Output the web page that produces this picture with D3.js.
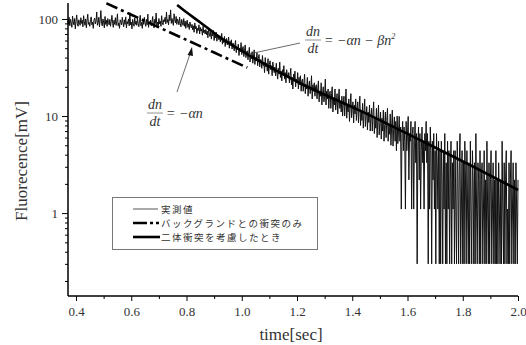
<!DOCTYPE html>
<html><head><meta charset="utf-8">
<script src="https://cdn.jsdelivr.net/npm/d3@7"></script>
<style>body{margin:0;background:#fff}svg{display:block}</style>
</head><body>
<svg id="c" width="526" height="345"></svg>
<script>
// measured signal [mV], sampled every 0.0025 s from 0.370 s to 2.000 s (20 samples per row)
const tStart = 0.37, tStep = 0.0025;
const measured = [
96,88,104,85,99,91,82,107,93,87,101,79,95,110,89,84,98,92,86,103,
90,97,83,108,94,86,100,81,96,112,88,92,84,99,105,87,93,80,97,102,
89,95,118,86,91,104,83,98,122,90,85,100,93,81,106,88,97,84,101,92,
87,99,84,95,109,90,82,97,88,103,86,94,113,85,91,80,98,93,87,104,
92,83,98,88,105,81,94,89,100,85,116,87,93,79,99,90,84,102,88,95,
86,101,90,83,97,109,85,92,80,96,88,104,91,84,99,87,112,82,94,89,
97,85,92,106,88,81,99,90,115,86,93,83,101,89,95,84,108,91,87,98,
94,104,89,118,92,99,87,110,96,124,90,101,93,86,113,98,91,106,88,100,
95,87,104,90,83,99,92,86,101,84,95,80,91,97,82,89,78,93,85,81,
88,77,85,73,91,79,84,71,80,76,87,70,82,75,79,68,84,72,77,70,
78,69,75,64,81,70,66,74,62,72,67,76,60,70,64,73,59,68,65,61,
67,58,64,71,55,62,57,66,52,60,63,54,58,65,50,59,55,61,49,56,
56,47,53,60,45,51,48,55,42,50,46,57,43,49,52,41,47,54,40,45,
47,38,44,51,36,42,39,46,35,41,48,34,40,37,45,33,39,43,32,38,
38,31,42,33,36,28,40,32,35,29,39,27,34,37,30,33,26,36,31,28,
32,26,35,28,24,31,27,36,25,29,23,30,27,33,24,28,22,30,26,25,
28,22,26,31,21,25,19,27,23,29,20,24,22,28,19,25,21,26,18,23,
24,18,22,27,17,21,19,25,16,20,23,17,19,26,15,21,18,22,16,20,
21,15,19,23,14,18,16,22,13,17,20,14,16,24,13,18,15,19,12,17,
18,12,17,20,11,15,13,19,11.5,14,17,10.5,15,19,12,14,11,16,10,13.5,
16,10,14,19,9.5,13,11,15,8.8,12.5,17,9.6,12,14,8.5,13,10.5,15,9,12,
14,8.5,12,16,8,11,9,13.5,7.5,10.5,15,7.8,10,12.5,7.2,11,8.6,13,7,9.6,
12,7,10.5,14,6.6,9.3,7.5,12,6,9,13,6.4,8.5,11,5.8,9.5,7,11.5,5.5,8.2,
11,6,9,12,5.5,8,6.5,10.5,5,7.7,11.5,4.9,7.5,9.8,5.5,8.8,4.4,10,5.2,7,
9.9,5.5,7.7,1.1,6.6,8.8,4.4,7.7,5.5,1.1,8.8,4.4,6.6,9.9,2.2,6.6,5.5,8.8,1.1,6.6,
7.7,1.1,5.5,8.8,3.3,6.6,0.3,5.5,7.7,2.2,6.6,1.1,4.4,7.7,3.3,5.5,1.1,6.6,4.4,8.8,
3.3,6.6,0.3,5.5,1.1,7.7,4.4,0.3,5.5,2.2,6.6,1.1,4.4,0.3,6.6,3.3,1.1,5.5,0.3,4.4,
0.3,5.5,2.2,0.3,4.4,1.1,6.6,0.3,3.3,0.3,5.5,1.1,4.4,0.3,2.2,5.5,0.3,3.3,1.1,4.4,
0.3,4.4,1.1,0.3,5.5,2.2,0.3,3.3,6.6,0.3,1.1,4.4,0.3,3.3,0.3,5.5,2.2,0.3,4.4,1.1,
0.3,3.3,0.3,5.5,1.1,0.3,4.4,2.2,0.3,3.3,0.3,6.6,1.1,0.3,3.3,2.2,0.3,4.4,0.3,2.2,
3.3,0.3,1.1,4.4,0.3,2.2,0.3,5.5,1.1,0.3,3.3,0.3,2.2,4.4,0.3,1.1,3.3,0.3,2.2,0.3,
4.4,0.3,2.2,0.3,3.3,1.1,0.3,2.2,0.3,5.5,1.1,0.3,3.3,0.3,2.2,4.4,0.3,1.1,0.3,3.3,
0.3,2.2,4.4,0.3,1.1,3.3,0.3,2.2,0.3,3.3,1.1,0.3,2.2
];
// background-collision-only model (dash-dot)
const bgT = [0.51, 0.6, 0.7, 0.8, 0.9, 1.02];
const bgV = [145, 110.6, 82, 60.8, 45.1, 31.5];
// two-body collision model (solid)
const fitT = [0.766, 0.80, 0.85, 0.92, 1.02, 1.21, 1.43, 1.645, 1.826, 2.0];
const fitV = [139, 117, 92, 65, 43.5, 21.9, 11.3, 5.66, 3.13, 1.73];
const xTicks = [0.4,0.6,0.8,1.0,1.2,1.4,1.6,1.8,2.0];
const xMinor = [0.5,0.7,0.9,1.1,1.3,1.5,1.7,1.9];
const yTicks = [1,10,100];
const legendLabels = ["実測値","バックグランドとの衝突のみ","二体衝突を考慮したとき"];

const svg = d3.select("#c");
const x = d3.scaleLinear().domain([0.371, 2.0]).range([68, 518]);
const y = d3.scaleLog().domain([0.14, 146]).range([296, 3]);

const serif = "Liberation Serif, Times New Roman, serif";

// measured data
const mData = measured.map((v,i)=>({t: tStart + i*tStep, v}));
svg.append("path").datum(mData)
  .attr("d", d3.line().x(d=>x(d.t)).y(d=>y(d.v)))
  .attr("fill","none").attr("stroke","#111").attr("stroke-width",1.0);

// background model
svg.append("path").datum(bgT.map((t,i)=>({t,v:bgV[i]})))
  .attr("d", d3.line().x(d=>x(d.t)).y(d=>y(d.v)).curve(d3.curveMonotoneX))
  .attr("fill","none").attr("stroke","#000").attr("stroke-width",2.6)
  .attr("stroke-dasharray","12,4,3,4");

// two-body model
svg.append("path").datum(fitT.map((t,i)=>({t,v:fitV[i]})))
  .attr("d", d3.line().x(d=>x(d.t)).y(d=>y(d.v)).curve(d3.curveMonotoneX))
  .attr("fill","none").attr("stroke","#000").attr("stroke-width",2.6);

// axes
const xAxis = svg.append("g").attr("transform","translate(0,296)")
  .call(d3.axisBottom(x).tickValues(xTicks).tickFormat(d3.format(".1f")).tickSize(5).tickSizeOuter(0));
svg.append("g").attr("transform","translate(0,296)")
  .call(d3.axisBottom(x).tickValues(xMinor).tickFormat("").tickSize(3).tickSizeOuter(0))
  .select(".domain").remove();
xAxis.attr("font-family",serif).attr("font-size",13);
xAxis.select(".domain").attr("stroke-width",1.5).attr("d","M68,0H518");
xAxis.selectAll("text").attr("font-family",serif).attr("font-size",13).attr("fill","#333").attr("dy","0.9em");

const yMinor = [];
[0.1,1,10].forEach(b=>{for(let k=2;k<=9;k++){const v=b*k; if(v>=0.14&&v<=146) yMinor.push(v);}});
const yAxis = svg.append("g").attr("transform","translate(68,0)")
  .call(d3.axisLeft(y).tickValues(yTicks).tickFormat(d3.format("d")).tickSize(6).tickSizeOuter(0));
svg.append("g").attr("transform","translate(68,0)")
  .call(d3.axisLeft(y).tickValues(yMinor).tickFormat("").tickSize(3).tickSizeOuter(0))
  .select(".domain").remove();
yAxis.attr("font-family",serif).attr("font-size",13);
yAxis.select(".domain").attr("stroke-width",1.5).attr("d","M0,3V296");
yAxis.selectAll("text").attr("font-family",serif).attr("font-size",13).attr("fill","#333").attr("x",-10);

// axis titles
svg.append("text").attr("x",291).attr("y",340).attr("text-anchor","middle")
  .attr("font-family",serif).attr("font-size",17).attr("fill","#333").text("time[sec]");
svg.append("text").attr("transform","translate(27,161) rotate(-90)").attr("text-anchor","middle")
  .attr("font-family",serif).attr("font-size",17).attr("fill","#333").text("Fluorecence[mV]");

// legend
const lg = svg.append("g");
lg.append("rect").attr("x",112.5).attr("y",197.5).attr("width",205).attr("height",52)
  .attr("fill","#fff").attr("stroke","#777").attr("stroke-width",1);
const rowY = [209, 223, 237];
lg.append("line").attr("x1",133).attr("x2",158).attr("y1",rowY[0]).attr("y2",rowY[0]).attr("stroke","#555").attr("stroke-width",1);
lg.append("line").attr("x1",133).attr("x2",159).attr("y1",rowY[1]).attr("y2",rowY[1]).attr("stroke","#000").attr("stroke-width",2.6).attr("stroke-dasharray","14,3,3,3,3,100");
lg.append("line").attr("x1",133).attr("x2",160).attr("y1",rowY[2]).attr("y2",rowY[2]).attr("stroke","#000").attr("stroke-width",2.6);
legendLabels.forEach((s,i)=>{
  lg.append("text").attr("x",161).attr("y",rowY[i]+4).attr("font-family","Noto Sans CJK JP, sans-serif")
    .attr("font-size",9.5).attr("letter-spacing",1.5).attr("fill","#333").text(s);
});

// annotations
function frac(g, cx, yBar){
  g.append("text").attr("x",cx).attr("y",yBar-4).attr("text-anchor","middle").attr("font-family",serif).attr("font-style","italic").attr("font-size",14).attr("fill","#333").text("dn");
  g.append("line").attr("x1",cx-8).attr("x2",cx+8).attr("y1",yBar).attr("y2",yBar).attr("stroke","#777").attr("stroke-width",0.8);
  g.append("text").attr("x",cx).attr("y",yBar+13).attr("text-anchor","middle").attr("font-family",serif).attr("font-style","italic").attr("font-size",14).attr("fill","#333").text("dt");
}
const a1 = svg.append("g");
frac(a1, 155, 113);
a1.append("text").attr("x",166).attr("y",118).attr("font-family",serif).attr("font-style","italic").attr("font-size",14).attr("fill","#333").text("= −αn");
const a2 = svg.append("g");
frac(a2, 313, 40);
const t2 = a2.append("text").attr("x",324).attr("y",45).attr("font-family",serif).attr("font-style","italic").attr("font-size",14).attr("fill","#333");
t2.append("tspan").text("= −αn − βn");
t2.append("tspan").attr("font-size",8).attr("dy",-6).text("2");

// leader lines
svg.append("line").attr("x1",177).attr("y1",92).attr("x2",190).attr("y2",54).attr("stroke","#444").attr("stroke-width",0.8);
svg.append("path").attr("d","M192,47 L187.5,55 L193,56 Z").attr("fill","#111");
svg.append("line").attr("x1",249).attr("y1",54).attr("x2",300).attr("y2",43).attr("stroke","#444").attr("stroke-width",0.8);
</script>
</body></html>
